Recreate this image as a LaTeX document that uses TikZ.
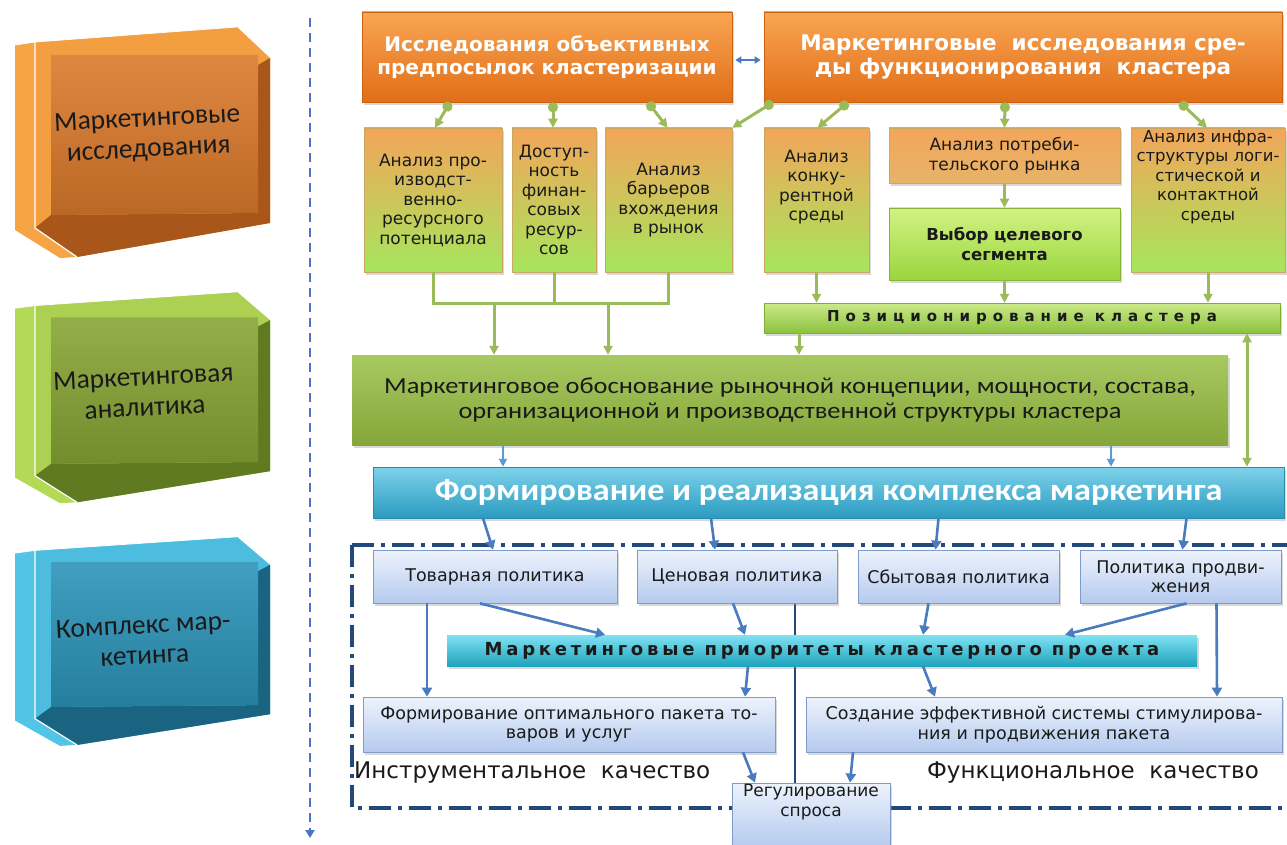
\documentclass[tikz,border=0pt]{standalone}
\usepackage{fontspec}
\setmainfont{DejaVu Sans}
\newfontfamily\calfont{Carlito}
\newfontfamily\calwide[FakeStretch=1.15]{Carlito}
\newfontfamily\calwideB[FakeStretch=1.1]{Carlito}
\newfontfamily\spacedA[LetterSpace=40]{DejaVu Sans}
\newfontfamily\spacedB[LetterSpace=21]{DejaVu Sans}
\usetikzlibrary{arrows.meta,shadows,calc}
\definecolor{orT}{HTML}{FAA552}
\definecolor{orB}{HTML}{E06E18}
\definecolor{orD}{HTML}{C9620F}
\definecolor{anT}{HTML}{F3A55A}
\definecolor{anM}{HTML}{D6C35C}
\definecolor{anB}{HTML}{A6E65C}
\definecolor{anD}{HTML}{C8A862}
\definecolor{c5B}{HTML}{E6B468}
\definecolor{limT}{HTML}{D2F282}
\definecolor{limB}{HTML}{9AD63E}
\definecolor{limD}{HTML}{86B43A}
\definecolor{posT}{HTML}{CBE98A}
\definecolor{posB}{HTML}{8CC23E}
\definecolor{posD}{HTML}{7FAE36}
\definecolor{gT}{HTML}{A8C960}
\definecolor{gB}{HTML}{84A63A}
\definecolor{bbT}{HTML}{7DD2EA}
\definecolor{bbB}{HTML}{2B9BC0}
\definecolor{bbD}{HTML}{2A8BAE}
\definecolor{pT}{HTML}{EDF3FC}
\definecolor{pB}{HTML}{B5CAEE}
\definecolor{pD}{HTML}{7F9BCB}
\definecolor{prT}{HTML}{7FE2F2}
\definecolor{prB}{HTML}{1FA4BE}
\definecolor{grC}{HTML}{9BBB59}
\definecolor{blC}{HTML}{4A7BBE}
\definecolor{blL}{HTML}{5B9BD5}
\definecolor{frC}{HTML}{23497A}
\definecolor{vdC}{HTML}{4A76C0}
\definecolor{txt}{HTML}{1A1A1A}
\definecolor{oL}{HTML}{F6A445}
\definecolor{oM}{HTML}{DB7A2C}
\definecolor{oDk}{HTML}{A9561A}
\definecolor{gL}{HTML}{B3D957}
\definecolor{gM}{HTML}{87A535}
\definecolor{gDk}{HTML}{5F7A20}
\definecolor{bL}{HTML}{52C4E6}
\definecolor{bM}{HTML}{2C94B9}
\definecolor{bDk}{HTML}{1A6482}
\begin{document}
\begin{tikzpicture}[x=1pt,y=-1pt,
  every node/.style={inner sep=0pt, align=center},
  shad/.style={drop shadow={opacity=0.3,shadow xshift=2pt,shadow yshift=-3pt}},
  topbox/.style={rectangle, shad, top color=orT, bottom color=orB, draw=orD, line width=0.6pt, text=white, font=\bfseries\fontsize{20}{23}\selectfont},
  anbox/.style={rectangle, shad, top color=anT, middle color=anM, bottom color=anB, draw=anD, line width=0.5pt, text=txt, font=\fontsize{17}{19.5}\selectfont},
  polbox/.style={rectangle, shad, top color=pT, bottom color=pB, draw=pD, line width=0.7pt, text=txt, font=\fontsize{17.5}{19.5}\selectfont},
  gline/.style={draw=grC, line width=3pt},
  garrow/.style={gline, -{Triangle[length=9pt,width=9pt]}},
  gdot/.style={gline, {Circle[length=10pt,width=10pt]}-{Triangle[length=9pt,width=9pt]}},
  barrow/.style={draw=blC, line width=2.6pt, -{Triangle[length=9pt,width=10pt]}},
  larrow/.style={draw=blL, line width=2pt, -{Triangle[length=8pt,width=8pt]}},
  blocktxt/.style={rotate=3, text=txt, font=\calfont\fontsize{27.5}{30.5}\selectfont}
]
\useasboundingbox (0,0) rectangle (1287,845);
\fill[white] (0,0) rectangle (1287,845);

% ---------- left 3D blocks ----------
\foreach \yy/\sc/\cl/\cm/\cd in {25/1.0/oL/oM/oDk, 290/0.915/gL/gM/gDk, 535/0.905/bL/bM/bDk}{
  \begin{scope}[shift={(15,\yy)}, yscale=\sc]
    \fill[\cl] (0,20) -- (20,17) -- (20,203) -- (62,232) -- (45,233) -- (0,205) -- cycle;
    \fill[\cl!85!\cm] (20,17) -- (222,2) -- (255,33) -- (255,198) -- (62,232) -- (20,203) -- cycle;
    \fill[\cd] (255,33) -- (255,198) -- (62,232) -- (20,203) -- (36,190) -- (243,188) -- (243,40) -- cycle;
    \shade[top color=\cm!90!white, bottom color=\cm!85!black] (36,30) -- (243,30) -- (243,188) -- (36,190) -- cycle;
    \draw[white, line width=1.2pt] (20,17) -- (20,203) -- (62,232);
    \draw[white, line width=0.8pt] (0,20) -- (20,17) -- (222,2);
  \end{scope}
}
\node[blocktxt] (LB1) at (148,135) {Маркетинговые\\исследования};
\node[blocktxt] (LB2) at (144,392) {Маркетинговая\\аналитика};
\node[blocktxt] (LB3) at (144,640) {Комплекс мар-\\кетинга};

% ---------- vertical dashed axis ----------
\coordinate (vt) at (310,18);
\coordinate (vb) at (310,838);
\draw[draw=vdC, line width=2.4pt, dash pattern=on 9pt off 6pt, -{Triangle[length=8pt,width=9pt]}] (vt) -- (vb);

% ---------- top boxes ----------
\node[topbox, minimum width=370pt, minimum height=90pt] (A) at (547,57) {Исследования объективных\\предпосылок кластеризации};
\node[topbox, minimum width=518pt, minimum height=90pt, font=\bfseries\fontsize{21.5}{24}\selectfont] (B) at (1023,57) {Маркетинговые\ \ исследования сре-\\ды функционирования\ \ кластера};
\draw[draw=blC, line width=1.6pt, {Triangle[length=6pt,width=7pt]}-{Triangle[length=6pt,width=7pt]}] ([xshift=3pt,yshift=-3pt]A.east) -- ([xshift=-3pt,yshift=-3pt]B.west);

% ---------- analysis boxes ----------
\node[anbox, minimum width=138pt, minimum height=144pt] (C1) at (433,200) {Анализ про-\\изводст-\\венно-\\ресурсного\\потенциала};
\node[anbox, minimum width=84pt, minimum height=144pt] (C2) at (554,200) {Доступ-\\ность\\финан-\\совых\\ресур-\\сов};
\node[anbox, minimum width=127pt, minimum height=144pt] (C3) at (668.5,200) {Анализ\\барьеров\\вхождения\\в рынок};
\node[anbox, minimum width=105pt, minimum height=144pt] (C4) at (816.5,200) {Анализ\\конку-\\рентной\\среды\\[10pt]};
\node[anbox, minimum width=231pt, minimum height=55pt, middle color=anT!60!c5B, bottom color=c5B] (C5) at (1004.5,155.5) {Анализ потреби-\\тельского рынка};
\node[anbox, minimum width=231pt, minimum height=72pt, top color=limT, middle color=limT!50!limB, bottom color=limB, draw=limD, font=\bfseries\fontsize{16.5}{19.5}\selectfont] (C6) at (1004.5,244) {Выбор целевого\\сегмента};
\node[anbox, minimum width=154pt, minimum height=144pt, font=\fontsize{16.5}{19.5}\selectfont] (C7) at (1208,200) {Анализ инфра-\\структуры логи-\\стической и\\контактной\\среды\\[30pt]};

% top -> analysis connectors
\draw[gdot] ([xshift=-97pt]A.south) -- ([xshift=2pt]C1.north);
\draw[gdot] ([xshift=6pt]A.south) -- ([xshift=-1pt]C2.north);
\draw[gdot] ([xshift=101pt]A.south) -- ([xshift=-1pt]C3.north);
\draw[gdot] ([xshift=-250pt]B.south) -- (C3.north east);
\draw[gdot] ([xshift=-175pt]B.south) -- ([xshift=1pt]C4.north);
\draw[gdot] ([xshift=-18pt]B.south) -- (C5.north);
\draw[gdot] ([xshift=157pt]B.south) -- ([xshift=-1pt]C7.north);
\draw[garrow] (C5.south) -- (C6.north);

% ---------- positioning ----------
\node[rectangle, shad, top color=posT, bottom color=posB, draw=posD, line width=0.5pt, minimum width=516pt, minimum height=30pt, font=\spacedA\bfseries\fontsize{15}{16}\selectfont, text=txt] (P) at (1022,318) {Позиционирование кластера};
\draw[garrow] (C4.south) -- (C4.south |- P.north);
\draw[garrow] (C6.south) -- (C6.south |- P.north);
\draw[garrow] (C7.south) -- (C7.south |- P.north);

% ---------- big green box ----------
\node[rectangle, shad, top color=gT, bottom color=gB, minimum width=876pt, minimum height=90pt, text=txt, font=\calwide\fontsize{23}{25.5}\selectfont] (G) at (790,400) {Маркетинговое обоснование рыночной концепции, мощности, состава,\\организационной и производственной структуры кластера};

\coordinate (bus) at (0,303);
\draw[gline] (C1.south) -- (C1.south |- bus) -- (C3.south |- bus) -- (C3.south);
\draw[gline] (C2.south) -- (C2.south |- bus);
\coordinate (ja) at (494,303);
\coordinate (jb) at (608,303);
\draw[garrow] (ja) -- (ja |- G.north);
\draw[garrow] (jb) -- (jb |- G.north);
\draw[garrow] ([xshift=-223pt]P.south) -- ([xshift=-223pt]P.south |- G.north);

% ---------- blue bar ----------
\node[rectangle, shad, top color=bbT, bottom color=bbB, draw=bbD, line width=0.5pt, minimum width=911pt, minimum height=51pt, text=white, font=\calwideB\bfseries\fontsize{31}{33}\selectfont] (BB) at (828.5,492.5) {Формирование и реализация комплекса маркетинга};
\coordinate (pd) at ([xshift=225pt]P.south);
\draw[gline, {Triangle[length=9pt,width=9pt]}-{Triangle[length=9pt,width=9pt]}] (pd) -- (pd |- BB.north);
\coordinate (ga) at ([xshift=-287pt]G.south);
\coordinate (gb) at ([xshift=321pt]G.south);
\draw[larrow] (ga) -- (ga |- BB.north);
\draw[larrow] (gb) -- (gb |- BB.north);

% ---------- bottom section ----------
\draw[draw=frC, line width=3.2pt, dash pattern=on 22pt off 7pt on 4pt off 7pt] (352,545) rectangle (1320,808);
\coordinate (dv1) at (795,603);
\coordinate (dv2) at (795,783);
\draw[draw=frC, line width=2.6pt] (dv1) -- (dv2);

\node[polbox, minimum width=244pt, minimum height=53pt] (P1) at (495,576.5) {Товарная политика};
\node[polbox, minimum width=200pt, minimum height=53pt] (P2) at (737,576.5) {Ценовая политика};
\node[polbox, minimum width=201pt, minimum height=53pt] (P3) at (958.5,576.5) {Сбытовая политика};
\node[polbox, minimum width=201pt, minimum height=53pt, font=\fontsize{17.5}{18.5}\selectfont] (P4) at (1180.5,576.5) {Политика продви-\\жения};

\coordinate (t1) at ([xshift=-2pt]P1.north);
\coordinate (t2) at ([xshift=-22pt]P2.north);
\coordinate (t3) at ([xshift=-23pt]P3.north);
\coordinate (t4) at ([xshift=2pt]P4.north);
\draw[barrow] ([xshift=-10pt]t1 |- BB.south) -- (t1);
\draw[barrow] ([xshift=-4pt]t2 |- BB.south) -- (t2);
\draw[barrow] ([xshift=3pt]t3 |- BB.south) -- (t3);
\draw[barrow] ([xshift=4pt]t4 |- BB.south) -- (t4);

\node[rectangle, shad, top color=prT, bottom color=prB, minimum width=750pt, minimum height=31pt, text=txt, font=\spacedB\bfseries\fontsize{18}{19}\selectfont] (PR) at (822,650.5) {Маркетинговые приоритеты кластерного проекта};

\node[polbox, minimum width=412pt, minimum height=55pt] (F1) at (569,724.5) {Формирование оптимального пакета то-\\варов и услуг};
\node[polbox, minimum width=476pt, minimum height=55pt] (F2) at (1044,724.5) {Создание эффективной системы стимулирова-\\ния и продвижения пакета};
\node[polbox, minimum width=158pt, minimum height=64pt, font=\fontsize{17}{19.5}\selectfont] (R) at (811,815) {Регулирование\\спроса\\[10pt]};

\draw[barrow] ([xshift=-68pt]P1.south) -- ([xshift=-142pt]F1.north);
\draw[barrow] ([xshift=-15pt]P1.south) -- ([xshift=-217pt]PR.north);
\draw[barrow] ([xshift=-4pt]P2.south) -- ([xshift=-77pt]PR.north);
\draw[barrow] ([xshift=-30pt]P3.south) -- ([xshift=101pt]PR.north);
\draw[barrow] ([xshift=6pt]P4.south) -- ([xshift=243pt]PR.north);
\draw[barrow] ([xshift=36pt]P4.south) -- ([xshift=173pt]F2.north);
\draw[barrow] ([xshift=-74pt]PR.south) -- ([xshift=176pt]F1.north);
\draw[barrow] ([xshift=101pt]PR.south) -- ([xshift=-109pt]F2.north);
\draw[barrow] ([xshift=174pt]F1.south) -- ([xshift=-56pt]R.north);
\draw[barrow] ([xshift=-191pt]F2.south) -- ([xshift=39pt]R.north);

\node[anchor=west, text=txt, font=\fontsize{23}{25}\selectfont] (L1) at (354,773) {Инструментальное\ \ качество};
\node[anchor=east, text=txt, font=\fontsize{23}{25}\selectfont] (L2) at (1259,773) {Функциональное\ \ качество};
\end{tikzpicture}
\end{document}
